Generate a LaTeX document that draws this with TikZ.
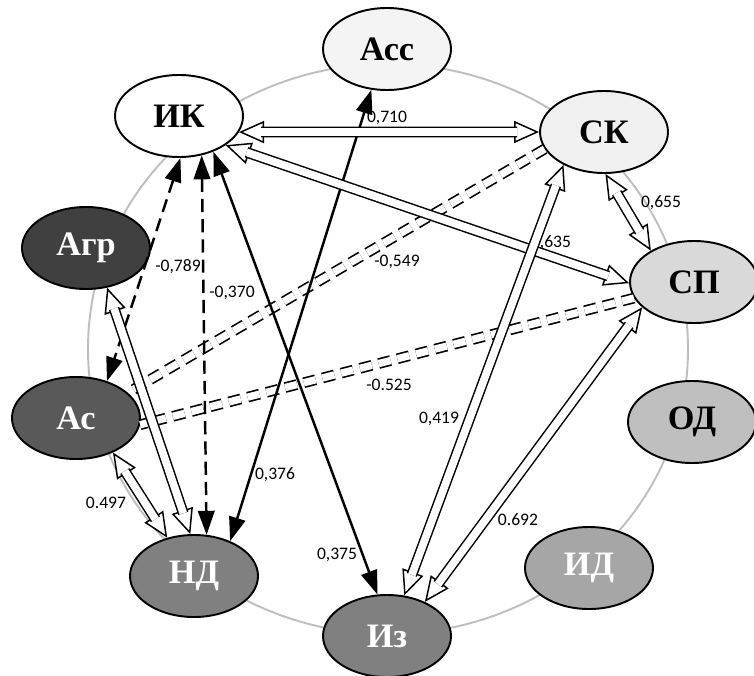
\documentclass[tikz,border=0pt]{standalone}
\usepackage{fontspec}
\setmainfont{Liberation Serif}
\newfontfamily\corrfont{Carlito}
\usetikzlibrary{arrows.meta,shapes.geometric}

\definecolor{accfill}{HTML}{F4F4F4}
\definecolor{skfill}{HTML}{F0F0F0}
\definecolor{spfill}{HTML}{D9D9D9}
\definecolor{odfill}{HTML}{BFBFBF}
\definecolor{idfill}{HTML}{A6A6A6}
\definecolor{izfill}{HTML}{808080}
\definecolor{asfill}{HTML}{595959}
\definecolor{agrfill}{HTML}{404040}

\tikzset{
  htip/.tip={Triangle[fill=white,length=0.5cm,width=0.44cm]},
  ftip/.tip={Triangle[length=0.48cm,width=0.33cm]},
  factor/.style={ellipse, draw, line width=1.1pt, minimum width=2.56cm,
    minimum height=1.64cm, inner sep=0pt,
    font=\fontsize{19.5}{21}\selectfont\bfseries},
  corr/.style={font=\corrfont\fontsize{10}{12}\selectfont, inner sep=0.5pt},
  hollowlink/.style={line width=0.85pt, htip-htip,
    postaction={draw, -, line width=0.85pt, double=white, double distance=4.4pt,
      shorten <=0.44cm, shorten >=0.44cm}},
  solidlink/.style={line width=1.4pt, ftip-ftip},
  dashlink/.style={solidlink, dash pattern=on 7.5pt off 4pt},
  dbldashlink/.style={line width=0.95pt, double=white, double distance=4.2pt,
    dash pattern=on 7pt off 4pt}
}

\begin{document}
\begin{tikzpicture}
                \useasboundingbox (0,0) rectangle (15.08,13.5);
                
                % Drawing ring behind the factors
                \draw [gray!50, line width=1.1pt] (7.76,6.52) ellipse [x radius=6.0, y radius=5.7];%
                
                % Drawing factors
                \node [factor, fill=accfill] (acc) at (7.74,12.52) {Асс};%
                \node [factor, fill=white] (ik) at (3.58,11.18) {ИК};%
                \node [factor, fill=skfill] (sk) at (12.08,10.86) {СК};%
                \node [factor, fill=spfill] (sp) at (13.88,7.86) {СП};%
                \node [factor, fill=odfill] (od) at (13.84,5.06) {ОД};%
                \node [factor, fill=idfill, text=white] (id) at (11.78,2.14) {ИД};%
                \node [factor, fill=izfill, text=white] (iz) at (7.74,0.78) {Из};%
                \node [factor, fill=izfill, text=white] (nd) at (3.88,1.98) {НД};%
                \node [factor, fill=asfill, text=white] (as) at (1.52,5.14) {Ас};%
                \node [factor, fill=agrfill, text=white] (agr) at (1.72,8.54) {Агр};%
                
                % Marking values
                \node [corr] (v710) at (7.74,11.14) {0,710};%
                \node [corr] (v635) at (11.02,8.64) {0,635};%
                \node [corr] (v655) at (13.22,9.44) {0,655};%
                \node [corr] (v549) at (7.94,8.26) {-0,549};%
                \node [corr] (v525) at (7.78,5.80) {-0.525};%
                \node [corr] (v419) at (8.78,5.12) {0,419};%
                \node [corr] (v692) at (10.36,3.10) {0.692};%
                \node [corr] (v376) at (5.50,4.00) {0,376};%
                \node [corr] (v497) at (2.12,3.44) {0.497};%
                \node [corr] (v375) at (6.74,2.40) {0,375};%
                \node [corr] (v789) at (3.56,8.16) {-0,789};%
                \node [corr] (v370) at (4.64,7.64) {-0,370};%
                
                % Drawing double dashed links
                \draw [dbldashlink] (sk.-164) -- (as.26);%
                \draw [dbldashlink] (sp.-165) -- (as.-6);%
                
                % Drawing dashed links
                \draw [dashlink] (ik.-60) -- (nd.73);%
                \draw [dashlink] (ik.-88) -- (as.50);%
                
                % Drawing solid links
                \draw [solidlink] (acc.-111) -- (nd.44);%
                \draw [solidlink] (ik.-46) -- (iz.103);%
                
                % Drawing hollow links
                \draw [hollowlink] (ik.-15) -- (sk.180);%
                \draw [hollowlink] (ik.-32) -- (sp.181);%
                \draw [hollowlink] (sk.-88) -- (sp.144);%
                \draw [hollowlink] (sk.-141) -- (iz.67);%
                \draw [hollowlink] (sp.-154) -- (iz.42);%
                \draw [hollowlink] (as.-43) -- (nd.125);%
                \draw [hollowlink] (agr.-62) -- (nd.95);%
\end{tikzpicture}
\end{document}
